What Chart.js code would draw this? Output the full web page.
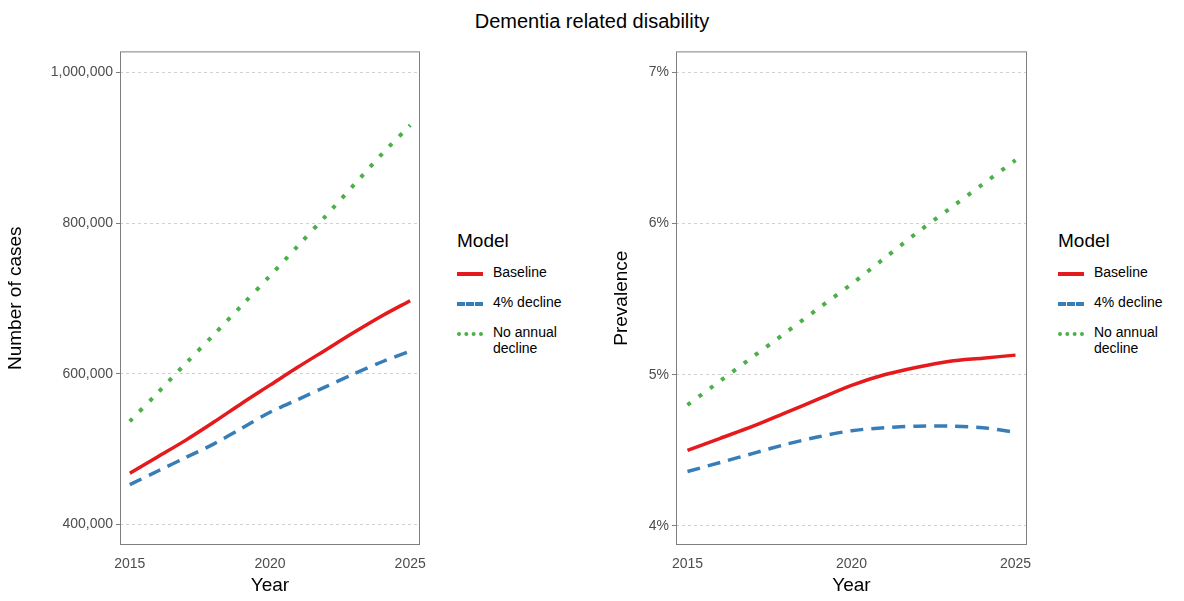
<!DOCTYPE html>
<html><head><meta charset="utf-8">
<script src="https://cdn.jsdelivr.net/npm/chart.js@4"></script>
<style>
body{margin:0;width:1184px;height:601px;background:#fff;font-family:"Liberation Sans",Arial,sans-serif;position:relative;overflow:hidden}
canvas{position:absolute}
.title{position:absolute;top:10px;left:0;width:1184px;text-align:center;font-size:20px;color:#000}
.leg{position:absolute;font-size:14px;color:#000}
.leg .h{font-size:19px;margin-bottom:12px}
.leg .it{display:flex;align-items:flex-start;height:30px}
.leg .sw{width:26px;height:0;margin-top:8px;margin-right:10px}
</style></head><body>
<div class="title">Dementia related disability</div>
<div style="position:absolute;left:0;top:40px;width:430px;height:561px"><canvas id="c1"></canvas></div>
<div style="position:absolute;left:606px;top:40px;width:431px;height:561px"><canvas id="c2"></canvas></div>
<div class="leg" style="left:457px;top:230px"><div class="h">Model</div>
<div class="it"><div class="sw" style="border-top:4px solid #e41a1c"></div>Baseline</div>
<div class="it"><div class="sw" style="border-top:4px dashed #377eb8"></div>4% decline</div>
<div class="it"><div class="sw" style="border-top:4px dotted #4daf4a"></div>No annual<br>decline</div></div>
<div class="leg" style="left:1058px;top:230px"><div class="h">Model</div>
<div class="it"><div class="sw" style="border-top:4px solid #e41a1c"></div>Baseline</div>
<div class="it"><div class="sw" style="border-top:4px dashed #377eb8"></div>4% decline</div>
<div class="it"><div class="sw" style="border-top:4px dotted #4daf4a"></div>No annual<br>decline</div></div>
<script>
const years=[2015,2016,2017,2018,2019,2020,2021,2022,2023,2024,2025];
const casesBaseline=[468000,490000,512000,536000,561000,585000,609000,632000,655000,677000,697000];
const casesDecline=[453000,471000,489000,507000,528000,549000,566000,583000,600000,616000,630000];
const casesNoDecline=[537000,575000,614000,652000,691000,730000,770000,810000,851000,892000,930000];
const prevBaseline=[4.50,4.58,4.66,4.75,4.84,4.93,5.00,5.05,5.09,5.11,5.13];
const prevDecline=[4.36,4.42,4.48,4.54,4.59,4.63,4.65,4.66,4.66,4.65,4.62];
const prevNoDecline=[4.80,4.96,5.12,5.28,5.44,5.60,5.77,5.94,6.10,6.26,6.42];
const xTicks=[2015,2020,2025];
const casesTicks=[400000,600000,800000,1000000];
const prevTicks=[4,5,6,7];

const frame={id:'frame',afterDraw(c){const a=c.chartArea,x=c.ctx;x.save();x.setLineDash([]);x.strokeStyle='#7f7f7f';x.lineWidth=1;x.strokeRect(a.left+0.5,a.top+0.5,a.width-1,a.height-1);x.restore();}};
function ds(data,color,dash,w){return {data:years.map((y,i)=>({x:y,y:data[i]})),borderColor:color,borderWidth:w,borderDash:dash,pointRadius:0,fill:false,tension:0.3,borderCapStyle:'butt'};}
function make(id,sets,ymin,ymax,yt,fmt,ytitle,yw){
 new Chart(document.getElementById(id),{type:'line',data:{datasets:sets},plugins:[frame],
 options:{responsive:true,maintainAspectRatio:false,animation:false,layout:{padding:{top:5,right:10}},
 plugins:{legend:{display:false},tooltip:{enabled:false}},
 scales:{x:{type:'linear',min:2014.65,max:2025.35,afterBuildTicks:s=>{s.ticks=xTicks.map(v=>({value:v}))},
   afterFit:s=>{s.height=56},grid:{display:false,drawTicks:true},border:{display:false},
   ticks:{color:'#4d4d4d',font:{size:14,family:'Liberation Sans'},callback:v=>String(v),maxRotation:0},
   title:{display:true,text:'Year',color:'#000',font:{size:19,family:'Liberation Sans'},padding:{top:0}}},
  y:{min:ymin,max:ymax,afterBuildTicks:s=>{s.ticks=yt.map(v=>({value:v}))},afterFit:s=>{s.width=yw},
   border:{display:false,dash:[3,3]},grid:{color:'#d0d0d0',tickColor:'#7f7f7f',tickLength:4,drawTicks:true,lineWidth:1},
   ticks:{color:'#4d4d4d',font:{size:14,family:'Liberation Sans'},callback:fmt},
   title:{display:true,text:ytitle,color:'#000',font:{size:19,family:'Liberation Sans'}}}}}});
 }
Chart.defaults.font.family='Liberation Sans';
make('c1',[ds(casesNoDecline,'#4daf4a',[4,10],4),ds(casesDecline,'#377eb8',[13,8],3.5),ds(casesBaseline,'#e41a1c',[],3.5)],372800,1027900,casesTicks,v=>v.toLocaleString('en-US'),'Number of cases',120);
make('c2',[ds(prevNoDecline,'#4daf4a',[4,10],4),ds(prevDecline,'#377eb8',[13,8],3.5),ds(prevBaseline,'#e41a1c',[],3.5)],3.874,7.139,prevTicks,v=>v+'%','Prevalence',70);
</script></body></html>
